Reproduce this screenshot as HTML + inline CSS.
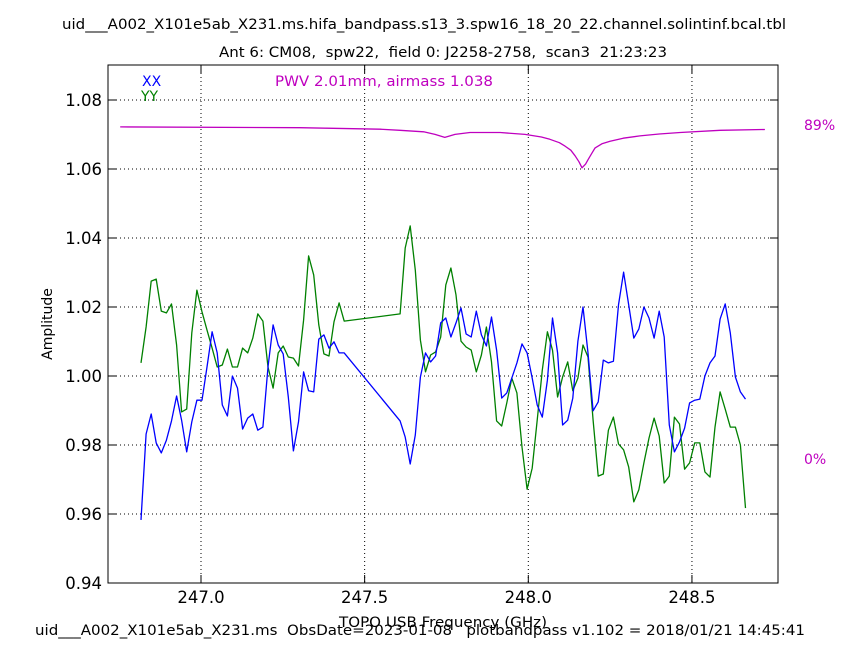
<!DOCTYPE html>
<html><head><meta charset="utf-8"><style>
html,body{margin:0;padding:0;background:#fff;}
svg{display:block;font-family:"DejaVu Sans","Liberation Sans",sans-serif;}
svg text{white-space:pre;}
</style></head><body>
<svg id="chart" width="864" height="648" viewBox="0 0 864 648">
<text x="424" y="29" text-anchor="middle" font-size="14" textLength="724" lengthAdjust="spacingAndGlyphs">uid___A002_X101e5ab_X231.ms.hifa_bandpass.s13_3.spw16_18_20_22.channel.solintinf.bcal.tbl</text>
<text x="443" y="57" text-anchor="middle" font-size="14" textLength="448" lengthAdjust="spacingAndGlyphs">Ant 6: CM08,  spw22,  field 0: J2258-2758,  scan3  21:23:23</text>
<g id="grid"></g>
<g id="series"></g>
<rect x="108" y="65" width="670" height="518" fill="none" stroke="#000" stroke-width="1"/>
<g id="ticks"></g>
<text x="142" y="86" font-size="14" fill="#0000ff">XX</text>
<text x="141" y="101" font-size="14" fill="#008000">YY</text>
<text x="275" y="86" font-size="14" fill="#bf00bf" textLength="218" lengthAdjust="spacingAndGlyphs">PWV 2.01mm, airmass 1.038</text>
<text x="804" y="130" font-size="14" fill="#bf00bf">89%</text>
<text x="804" y="464" font-size="14" fill="#bf00bf">0%</text>
<text x="52" y="324" font-size="14" text-anchor="middle" transform="rotate(-90 52 324)">Amplitude</text>
<text x="443" y="627" font-size="14" text-anchor="middle" textLength="208" lengthAdjust="spacingAndGlyphs">TOPO USB Frequency (GHz)</text>
<text x="420" y="635" font-size="14" text-anchor="middle" textLength="770" lengthAdjust="spacingAndGlyphs">uid___A002_X101e5ab_X231.ms  ObsDate=2023-01-08   plotbandpass v1.102 = 2018/01/21 14:45:41</text>
</svg>
<script>
const xTicks = [247.0, 247.5, 248.0, 248.5];
const yTicks = [0.94, 0.96, 0.98, 1.00, 1.02, 1.04, 1.06, 1.08];
const f0 = 246.8167, df = 0.015521;
const chanIdx = [];
for (let i = 0; i <= 40; i++) chanIdx.push(i);
for (let i = 51; i <= 119; i++) chanIdx.push(i);
const xxAmp = [0.9583,0.9832,0.9890,0.9806,0.9777,0.9814,0.9870,0.9942,0.9872,0.9780,0.9867,0.9930,0.9930,1.0026,1.0128,1.0067,0.9916,0.9884,1.0000,0.9965,0.9846,0.9878,0.9890,0.9843,0.9852,1.0026,1.0148,1.0090,1.0064,0.9939,0.9783,0.9867,1.0012,0.9957,0.9954,1.0107,1.0119,1.0081,1.0099,1.0067,1.0067,
0.9870,0.9823,0.9745,0.9829,0.9997,1.0067,1.0041,1.0058,1.0154,
1.0168,1.0113,1.0154,1.0197,1.0122,1.0113,1.0188,1.0119,1.0087,1.0171,1.0075,0.9936,0.9951,0.9994,1.0038,1.0093,1.0067,0.9994,0.9916,0.9881,0.9988,1.0168,1.0067,0.9858,0.9872,0.9936,1.0101,1.0200,1.0067,0.9899,0.9925,1.0046,1.0038,1.0043,1.0206,1.0301,1.0206,1.0110,1.0136,1.0200,1.0168,1.0110,1.0188,1.0113,0.9858,0.9780,0.9809,0.9849,0.9922,0.9930,0.9933,1.0000,1.0038,1.0058,1.0165,1.0209,1.0125,0.9997,0.9954,0.9933];
const yyAmp = [1.0038,1.0142,1.0275,1.0281,1.0188,1.0183,1.0209,1.0090,0.9896,0.9904,1.0125,1.0249,1.0186,1.0133,1.0081,1.0026,1.0032,1.0078,1.0026,1.0026,1.0081,1.0067,1.0110,1.0180,1.0159,1.0026,0.9965,1.0067,1.0087,1.0055,1.0052,1.0029,1.0162,1.0348,1.0293,1.0148,1.0064,1.0058,1.0157,1.0212,1.0159,
1.0180,1.0371,1.0435,1.0307,1.0104,1.0012,1.0061,1.0070,1.0113,
1.0264,1.0313,1.0235,1.0101,1.0084,1.0075,1.0012,1.0061,1.0142,1.0041,0.9870,0.9855,0.9922,0.9994,0.9951,0.9794,0.9672,0.9733,0.9872,1.0017,1.0128,1.0075,0.9939,0.9997,1.0041,0.9957,0.9994,1.0090,1.0055,0.9872,0.9710,0.9716,0.9843,0.9881,0.9803,0.9786,0.9736,0.9635,0.9670,0.9748,0.9820,0.9878,0.9826,0.9690,0.9710,0.9881,0.9861,0.9730,0.9748,0.9806,0.9806,0.9722,0.9707,0.9852,0.9954,0.9904,0.9852,0.9852,0.9800,0.9617];
const atmFreq = [246.753,247.302,247.547,247.608,247.680,247.715,247.745,247.776,247.822,247.914,247.990,248.040,248.066,248.095,248.112,248.130,248.143,248.155,248.164,248.175,248.182,248.195,248.204,248.225,248.250,248.290,248.341,248.400,248.464,248.586,248.723];
const atmTrans = [88.5,88.3,87.9,87.6,87.2,86.5,85.7,86.5,87.0,87.0,86.5,85.8,85.2,84.3,83.4,82.3,80.8,79.2,77.6,78.6,79.7,81.6,82.9,84.0,84.7,85.5,86.1,86.6,87.0,87.6,87.8];

const NS = "http://www.w3.org/2000/svg";
const X = f => 201 + (f - 247.0) * 327.3;
const Y = a => 376 - (a - 1.0) * 3450;
const T = t => 459 - t / 0.2665;
function mk(tag, attrs, parent) {
  const e = document.createElementNS(NS, tag);
  for (const k in attrs) e.setAttribute(k, attrs[k]);
  parent.appendChild(e);
  return e;
}
const grid = document.getElementById('grid');
const ticks = document.getElementById('ticks');
const series = document.getElementById('series');
xTicks.forEach(v => {
  const x = X(v);
  const g = mk('line', {x1:x, x2:x, y1:65, y2:583, stroke:'#000', 'stroke-dasharray':'1,3', 'stroke-width':1}, grid);
  
  
  mk('line', {x1:x, x2:x, y1:583, y2:575, stroke:'#000'}, ticks);
  mk('line', {x1:x, x2:x, y1:65, y2:73, stroke:'#000'}, ticks);
  const t = mk('text', {x:x, y:603, 'text-anchor':'middle', 'font-size':16.5}, ticks);
  t.textContent = v.toFixed(1);
  
  
});
yTicks.forEach(v => {
  const y = Y(v);
  const g = mk('line', {x1:108, x2:778, y1:y, y2:y, stroke:'#000', 'stroke-dasharray':'1,3', 'stroke-width':1}, grid);
  
  
  mk('line', {x1:108, x2:116, y1:y, y2:y, stroke:'#000'}, ticks);
  mk('line', {x1:770, x2:778, y1:y, y2:y, stroke:'#000'}, ticks);
  const t = mk('text', {x:102, y:y+6, 'text-anchor':'end', 'font-size':16.5}, ticks);
  t.textContent = v.toFixed(2);
  
  
});
function line(xs, ys, color, name) {
  const pts = xs.map((x, i) => X(x).toFixed(1) + ',' + ys[i].toFixed(1)).join(' ');
  const p = mk('polyline', {points: pts, fill:'none', stroke:color, 'stroke-width':1.3, 'stroke-linejoin':'round'}, series);
  
  
}
const freqs = chanIdx.map(i => f0 + i * df);
line(atmFreq, atmTrans.map(T), '#bf00bf', 'atm-transmission-line');
line(freqs, yyAmp.map(Y), '#008000', 'yy-series-line');
line(freqs, xxAmp.map(Y), '#0000ff', 'xx-series-line');
</script>
</body></html>
